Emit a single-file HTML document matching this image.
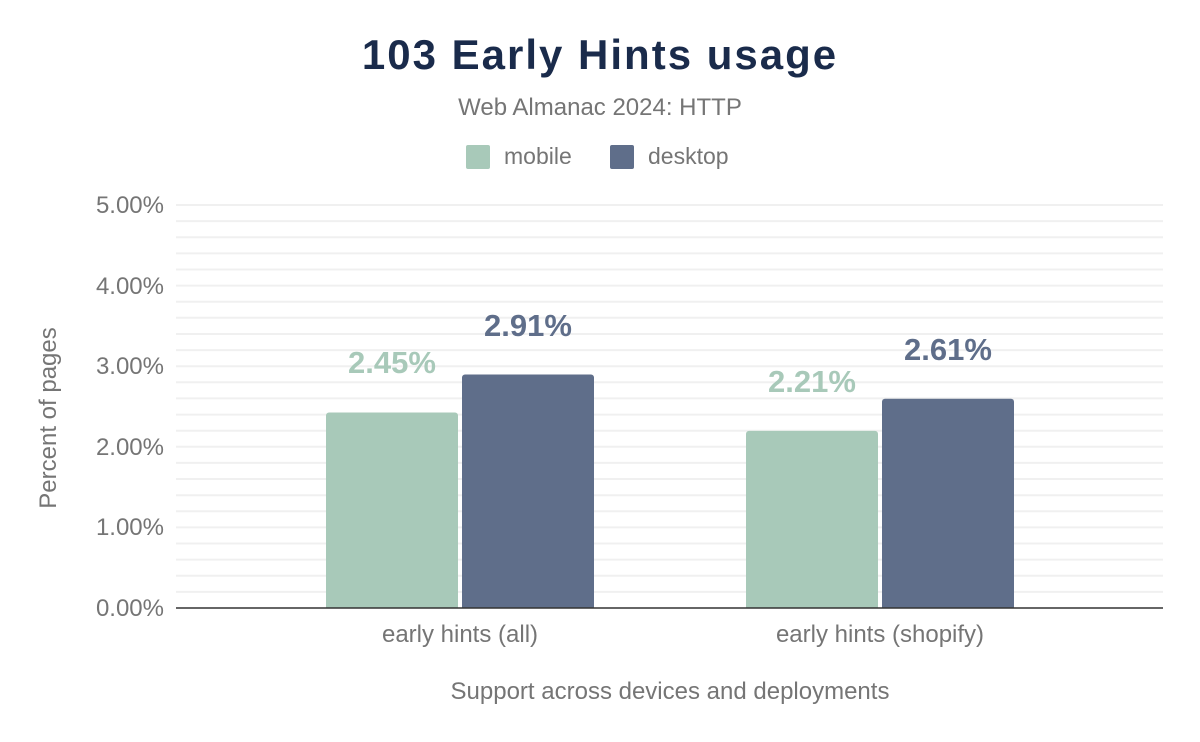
<!DOCTYPE html>
<html><head><meta charset="utf-8"><style>
body{margin:0;background:#fff;}
svg{display:block;font-family:"Liberation Sans",sans-serif;}
</style></head><body>
<svg width="1200" height="742" viewBox="0 0 1200 742">
<rect width="1200" height="742" fill="#fff"/>
<text x="600" y="69" text-anchor="middle" font-size="42" font-weight="bold" letter-spacing="2" fill="#1a2b4b">103 Early Hints usage</text>
<text x="600" y="115" text-anchor="middle" font-size="24" fill="#757575">Web Almanac 2024: HTTP</text>
<rect x="466" y="145" width="24" height="24" rx="2" fill="#a8c9b9"/>
<text x="504" y="164" font-size="23" fill="#757575">mobile</text>
<rect x="610" y="145" width="24" height="24" rx="2" fill="#5f6e8a"/>
<text x="648" y="164" font-size="23" fill="#757575">desktop</text>
<g stroke="#f0f0f0" stroke-width="2">
<line x1="176" x2="1163" y1="205" y2="205"/><line x1="176" x2="1163" y1="221.1" y2="221.1"/><line x1="176" x2="1163" y1="237.2" y2="237.2"/><line x1="176" x2="1163" y1="253.4" y2="253.4"/><line x1="176" x2="1163" y1="269.5" y2="269.5"/>
<line x1="176" x2="1163" y1="285.6" y2="285.6"/><line x1="176" x2="1163" y1="301.7" y2="301.7"/><line x1="176" x2="1163" y1="317.8" y2="317.8"/><line x1="176" x2="1163" y1="334" y2="334"/><line x1="176" x2="1163" y1="350.1" y2="350.1"/>
<line x1="176" x2="1163" y1="366.2" y2="366.2"/><line x1="176" x2="1163" y1="382.3" y2="382.3"/><line x1="176" x2="1163" y1="398.4" y2="398.4"/><line x1="176" x2="1163" y1="414.6" y2="414.6"/><line x1="176" x2="1163" y1="430.7" y2="430.7"/>
<line x1="176" x2="1163" y1="446.8" y2="446.8"/><line x1="176" x2="1163" y1="462.9" y2="462.9"/><line x1="176" x2="1163" y1="479" y2="479"/><line x1="176" x2="1163" y1="495.2" y2="495.2"/><line x1="176" x2="1163" y1="511.3" y2="511.3"/>
<line x1="176" x2="1163" y1="527.4" y2="527.4"/><line x1="176" x2="1163" y1="543.5" y2="543.5"/><line x1="176" x2="1163" y1="559.6" y2="559.6"/><line x1="176" x2="1163" y1="575.8" y2="575.8"/><line x1="176" x2="1163" y1="591.9" y2="591.9"/>
</g>
<g font-size="24" fill="#757575" text-anchor="end">
<text x="164" y="213">5.00%</text><text x="164" y="294">4.00%</text><text x="164" y="374">3.00%</text><text x="164" y="455">2.00%</text><text x="164" y="535">1.00%</text><text x="164" y="616">0.00%</text>
</g>
<text transform="translate(56,418) rotate(-90)" text-anchor="middle" font-size="24" fill="#757575">Percent of pages</text>
<path d="M326,608V415.5a3,3 0 0 1 3,-3H455a3,3 0 0 1 3,3V608Z" fill="#a8c9b9"/>
<path d="M462,608V377.5a3,3 0 0 1 3,-3H591a3,3 0 0 1 3,3V608Z" fill="#5f6e8a"/>
<path d="M746,608V433.9a3,3 0 0 1 3,-3H875a3,3 0 0 1 3,3V608Z" fill="#a8c9b9"/>
<path d="M882,608V401.7a3,3 0 0 1 3,-3H1011a3,3 0 0 1 3,3V608Z" fill="#5f6e8a"/>
<line x1="176" x2="1163" y1="608" y2="608" stroke="#333" stroke-width="1.5"/>
<g font-size="31" font-weight="bold" text-anchor="middle">
<text x="392" y="373" fill="#a8c9b9">2.45%</text>
<text x="528" y="336" fill="#5f6e8a">2.91%</text>
<text x="812" y="392" fill="#a8c9b9">2.21%</text>
<text x="948" y="360" fill="#5f6e8a">2.61%</text>
</g>
<g font-size="24" fill="#757575" text-anchor="middle">
<text x="460" y="642">early hints (all)</text>
<text x="880" y="642">early hints (shopify)</text>
<text x="670" y="699">Support across devices and deployments</text>
</g>
</svg>
</body></html>
